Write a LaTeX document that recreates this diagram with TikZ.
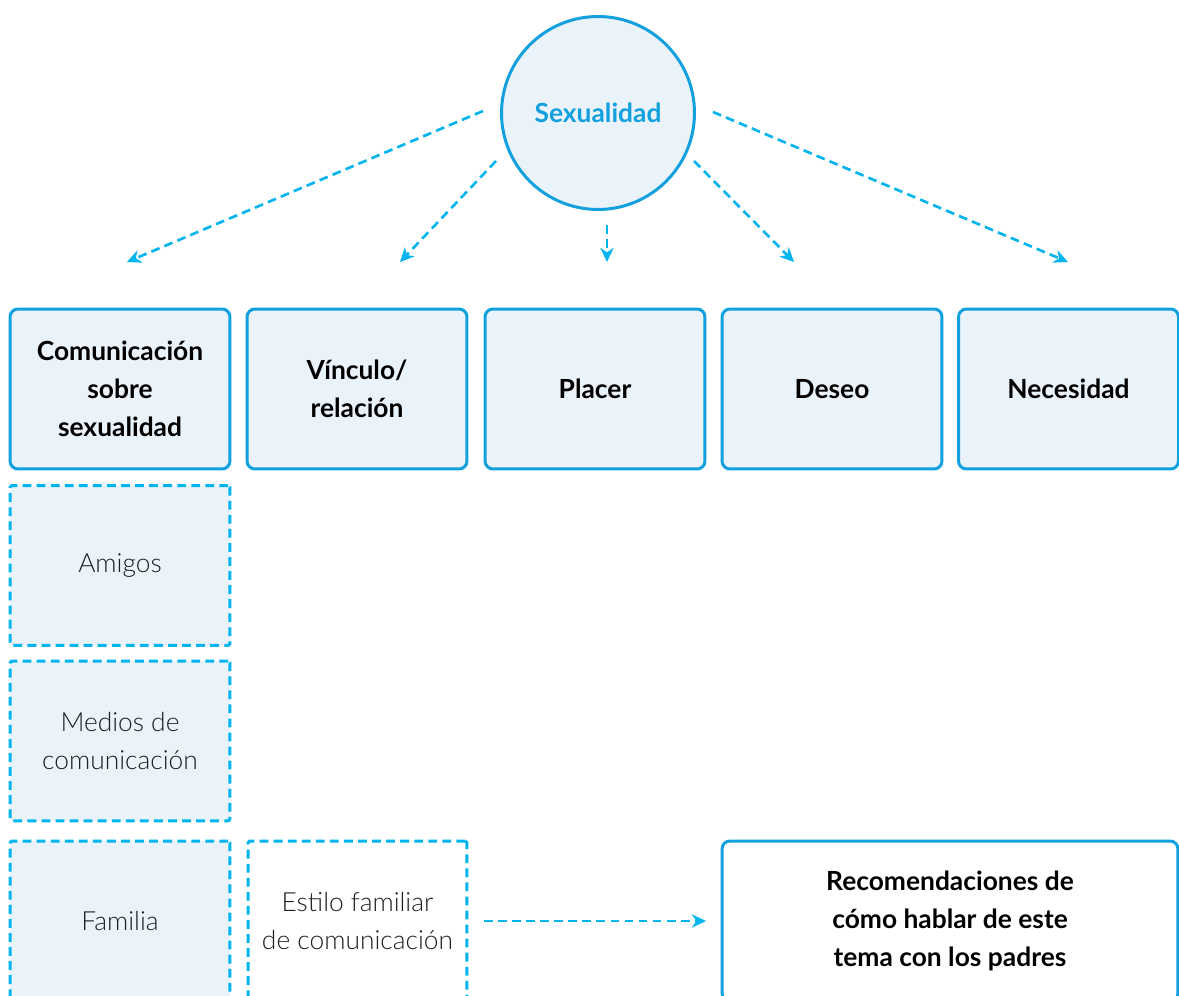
\documentclass[tikz,border=0pt]{standalone}
\usepackage{fontspec}
\setmainfont{Lato}
\newfontfamily\lightfont{Lato Light}
\usepackage{xcolor}
\usepackage{tikz}
\usetikzlibrary{arrows.meta}

\definecolor{lineblue}{HTML}{13A0DF}
\definecolor{dashblue}{HTML}{00B4EF}
\definecolor{paleblue}{HTML}{EAF2FA}
\definecolor{textgray}{HTML}{1E1E1E}

\tikzset{
  topic/.style={shape=rectangle,draw=lineblue,fill=paleblue,line width=1.7pt,
    rounded corners=4.5pt,minimum width=4.4cm,minimum height=3.2cm,
    align=center,font=\bfseries\fontsize{15}{21.6}\selectfont,text=black},
  source/.style={shape=rectangle,draw=dashblue,fill=paleblue,line width=1.7pt,
    dash pattern=on 5pt off 3pt,rounded corners=1pt,minimum width=4.4cm,
    minimum height=3.2cm,align=center,
    font=\lightfont\fontsize{15}{21.2}\selectfont,text=textgray},
  arr/.style={draw=dashblue,line width=1.5pt,dash pattern=on 5pt off 3pt,
    -{Stealth[length=8pt,width=7.5pt,inset=2.5pt]}}
}

\begin{document}
\begin{tikzpicture}[x=0.02cm,y=-0.02cm]
    \clip (0,0) rectangle (1179,996);
    \fill[white] (0,0) rectangle (1179,996);
    % centre
    \node[shape=circle,draw=lineblue,fill=paleblue,line width=1.7pt,
      minimum size=3.86cm,text=lineblue,
      font=\bfseries\fontsize{15}{18}\selectfont] (sex) at (598,113){Sexualidad};
    % first row
    \node[topic] (com) at (120,389){Comunicación\\sobre\\sexualidad};
    \node[topic] (vin) at (357,389){Vínculo/\\relación};
    \node[topic] (pla) at (595,389){Placer};
    \node[topic] (des) at (832,389){Deseo};
    \node[topic] (nec) at (1068.5,389){Necesidad};
    % sources
    \node[source] (ami) at (120,565.5){Amigos};
    \node[source] (med) at (120,741){Medios de\\comunicación};
    \node[source] (fam) at (120,921){Familia};
    \node[source,fill=white,minimum width=4.38cm] (est) at (357.5,921){Estilo familiar\\de comunicación};
    \node[topic,fill=white,minimum width=9.12cm] (rec) at (950,921){Recomendaciones de\\cómo hablar de este\\tema con los padres};
    % arrow ends
    \coordinate (s1) at (483,111);
    \coordinate (e1) at (127,262);
    \coordinate (s2) at (496,161);
    \coordinate (e2) at (400,262);
    \coordinate (s3) at (607,225);
    \coordinate (e3) at (607,262);
    \coordinate (s4) at (694,161);
    \coordinate (e4) at (794,262);
    \coordinate (s5) at (713,112);
    \coordinate (e5) at (1068,262);
    \coordinate (s6) at (484,921);
    \coordinate (e6) at (706,921);
    \draw [arr](s1) -- (e1);
    \draw [arr](s2) -- (e2);
    \draw [arr](s3) -- (e3);
    \draw [arr](s4) -- (e4);
    \draw [arr](s5) -- (e5);
    \draw [arr](s6) -- (e6);
\end{tikzpicture}
\end{document}
